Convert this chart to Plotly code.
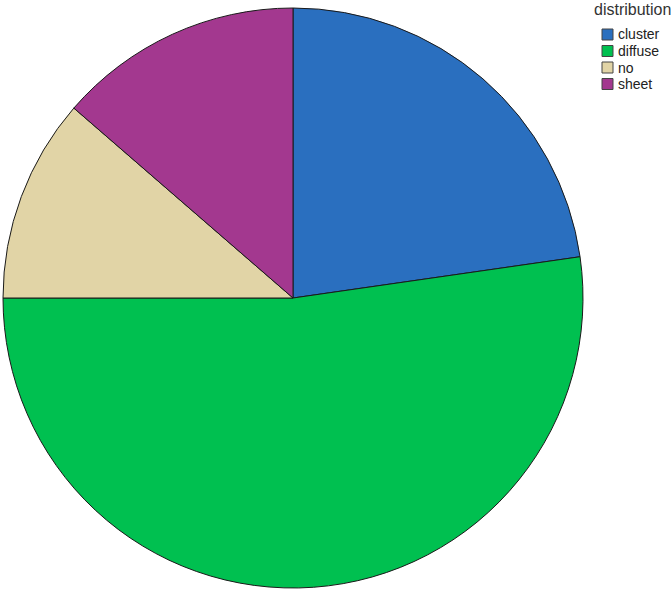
import plotly.graph_objects as go

categories = ["cluster", "diffuse", "no", "sheet"]
counts = [10, 23, 5, 6]
colors = ["#2A6FBF", "#00C050", "#E1D4A6", "#A3388F"]
legend_title = "distribution"

W, H = 672, 592

fig = go.Figure(
    go.Pie(
        labels=categories,
        values=counts,
        sort=False,
        direction="clockwise",
        rotation=0,
        textinfo="none",
        hoverinfo="label+value+percent",
        marker=dict(colors=colors, line=dict(color="#1a1a1a", width=1)),
        domain=dict(x=[3 / W, 583 / W], y=[1 - 588 / H, 1 - 8 / H]),
        showlegend=False,
    )
)

# hand-drawn legend, to get the compact SPSS-style spacing
fig.add_annotation(
    text=legend_title,
    x=592 / W, y=1 - 9 / H,
    xref="paper", yref="paper",
    xanchor="left", yanchor="middle",
    showarrow=False,
    font=dict(size=16, color="#333"),
)
for i, (name, col) in enumerate(zip(categories, colors)):
    cy = 34.5 + i * 16.5
    fig.add_shape(
        type="rect",
        xref="paper", yref="paper",
        x0=602 / W, x1=613 / W,
        y0=1 - (cy - 5.5) / H, y1=1 - (cy + 5.5) / H,
        fillcolor=col,
        line=dict(color="#444", width=1),
    )
    fig.add_annotation(
        text=name,
        x=616 / W, y=1 - cy / H,
        xref="paper", yref="paper",
        xanchor="left", yanchor="middle",
        showarrow=False,
        font=dict(size=14, color="#222"),
    )

fig.update_layout(
    width=W,
    height=H,
    margin=dict(l=0, r=0, t=0, b=0),
    paper_bgcolor="white",
    plot_bgcolor="white",
    font=dict(family="Liberation Sans, Arial, sans-serif", size=12, color="#222"),
    showlegend=False,
)

fig.write_html(
    "out.html",
    config={"displayModeBar": False},
    post_script="document.body.style.margin='0';document.body.style.overflow='hidden';",
)
